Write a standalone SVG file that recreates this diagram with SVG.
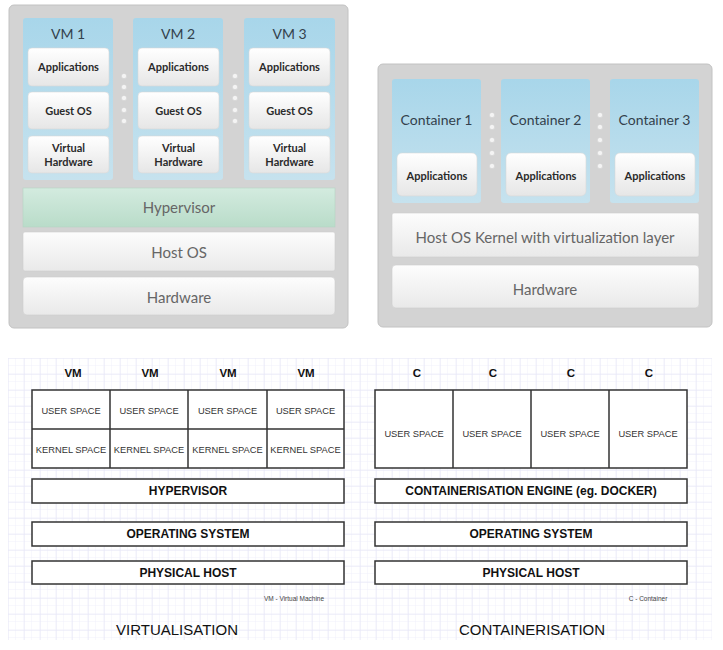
<svg xmlns="http://www.w3.org/2000/svg" width="723" height="650" viewBox="0 0 723 650">
<defs>
<linearGradient id="gBlue" x1="0" y1="0" x2="0" y2="1"><stop offset="0" stop-color="#a8d6ea"/><stop offset="1" stop-color="#c6e2ee"/></linearGradient>
<linearGradient id="gWhite" x1="0" y1="0" x2="0" y2="1"><stop offset="0" stop-color="#ffffff"/><stop offset="1" stop-color="#e6e6e6"/></linearGradient>
<linearGradient id="gLayer" x1="0" y1="0" x2="0" y2="1"><stop offset="0" stop-color="#fdfdfd"/><stop offset="1" stop-color="#e9e9e9"/></linearGradient>
<linearGradient id="gGreen" x1="0" y1="0" x2="0" y2="1"><stop offset="0" stop-color="#d3ebdf"/><stop offset="1" stop-color="#b9dcc9"/></linearGradient>
<pattern id="minor" width="8" height="8" patternUnits="userSpaceOnUse" x="8" y="358"><path d="M8 0V8M0 8H8" fill="none" stroke="#f0f0fb" stroke-width="1"/></pattern>
<pattern id="major" width="16" height="16" patternUnits="userSpaceOnUse" x="8" y="358"><path d="M0 0V16M0 0H16" fill="none" stroke="#e4e4f6" stroke-width="1"/></pattern>
</defs>
<style>
.outer{fill:#d3d3d3;stroke:#c2c2c2;stroke-width:1}
.col{fill:url(#gBlue)}
.wbox{fill:url(#gWhite);stroke:#d8d8d8;stroke-width:0.6}
.layer{fill:url(#gLayer);stroke:#cfcfcf;stroke-width:0.6}
.dot{fill:#f4f4f4;stroke:#cfcfcf;stroke-width:0.5}
.t-head{font-family:Lato,"Open Sans",sans-serif;font-size:14px;fill:#33414c;text-anchor:middle}
.t-box{font-family:Lato,"Open Sans",sans-serif;font-size:11px;font-weight:bold;fill:#2a2a2a;text-anchor:middle}
.t-layer{font-family:Lato,"Open Sans",sans-serif;font-size:15px;fill:#666;text-anchor:middle}
.cell{fill:#fff;stroke:#333;stroke-width:1.5}
.b-lab{font-family:"Liberation Sans",Arial,sans-serif;font-size:11.5px;font-weight:bold;fill:#111;text-anchor:middle}
.b-cell{font-family:"Liberation Sans",Arial,sans-serif;font-size:9.3px;fill:#333;text-anchor:middle}
.b-bar{font-family:"Liberation Sans",Arial,sans-serif;font-size:12px;font-weight:bold;fill:#111;text-anchor:middle}
.b-note{font-family:"Liberation Sans",Arial,sans-serif;font-size:6.5px;fill:#444;text-anchor:middle}
.b-title{font-family:"Liberation Sans",Arial,sans-serif;font-size:15px;fill:#111;text-anchor:middle}
</style>

<!-- Top-left: VM architecture -->
<g id="vm-panel">
<rect class="outer" x="9" y="5" width="339" height="323" rx="5"/>
</g>
<g id="vm1">
<rect class="col" x="23" y="18" width="90" height="162" rx="3"/>
<text class="t-head" x="68" y="39">VM 1</text>
<g><rect class="wbox" x="28" y="48" width="81" height="38" rx="4"/><text class="t-box" x="68.5" y="71">Applications</text></g>
<g><rect class="wbox" x="28" y="92" width="81" height="37" rx="4"/><text class="t-box" x="68.5" y="115">Guest OS</text></g>
<g><rect class="wbox" x="28" y="136" width="81" height="37" rx="4"/><text class="t-box" x="68.5" y="152">Virtual</text><text class="t-box" x="68.5" y="166">Hardware</text></g>
</g>
<g id="vm2">
<rect class="col" x="133" y="18" width="90" height="162" rx="3"/>
<text class="t-head" x="178" y="39">VM 2</text>
<g><rect class="wbox" x="138" y="48" width="81" height="38" rx="4"/><text class="t-box" x="178.5" y="71">Applications</text></g>
<g><rect class="wbox" x="138" y="92" width="81" height="37" rx="4"/><text class="t-box" x="178.5" y="115">Guest OS</text></g>
<g><rect class="wbox" x="138" y="136" width="81" height="37" rx="4"/><text class="t-box" x="178.5" y="152">Virtual</text><text class="t-box" x="178.5" y="166">Hardware</text></g>
</g>
<g id="vm3">
<rect class="col" x="244" y="18" width="91" height="162" rx="3"/>
<text class="t-head" x="289.5" y="39">VM 3</text>
<g><rect class="wbox" x="249" y="48" width="81" height="38" rx="4"/><text class="t-box" x="289.5" y="71">Applications</text></g>
<g><rect class="wbox" x="249" y="92" width="81" height="37" rx="4"/><text class="t-box" x="289.5" y="115">Guest OS</text></g>
<g><rect class="wbox" x="249" y="136" width="81" height="37" rx="4"/><text class="t-box" x="289.5" y="152">Virtual</text><text class="t-box" x="289.5" y="166">Hardware</text></g>
</g>
<g id="vm-dots">
<circle class="dot" cx="124" cy="76" r="2.6"/><circle class="dot" cx="124" cy="87" r="2.6"/><circle class="dot" cx="124" cy="98" r="2.6"/><circle class="dot" cx="124" cy="110" r="2.6"/><circle class="dot" cx="124" cy="121" r="2.6"/>
<circle class="dot" cx="235" cy="76" r="2.6"/><circle class="dot" cx="235" cy="87" r="2.6"/><circle class="dot" cx="235" cy="98" r="2.6"/><circle class="dot" cx="235" cy="110" r="2.6"/><circle class="dot" cx="235" cy="121" r="2.6"/>
</g>
<g id="hypervisor-top">
<rect x="23" y="188" width="312" height="39" fill="url(#gGreen)" stroke="#b5d3c3" stroke-width="0.6"/>
<text class="t-layer" x="179" y="213">Hypervisor</text>
</g>
<g id="hostos-top">
<rect class="layer" x="23" y="232" width="312" height="39" rx="2"/>
<text class="t-layer" x="179" y="258">Host OS</text>
</g>
<g id="hardware-top-left">
<rect class="layer" x="23" y="277" width="312" height="38" rx="4"/>
<text class="t-layer" x="179" y="303">Hardware</text>
</g>

<!-- Top-right: Container architecture -->
<g id="ct-panel">
<rect class="outer" x="378" y="64" width="334" height="263" rx="5"/>
</g>
<g id="container1">
<rect class="col" x="392" y="79" width="89" height="124" rx="3"/>
<text class="t-head" x="436.5" y="125">Container 1</text>
<g><rect class="wbox" x="397" y="153" width="80" height="43" rx="5"/><text class="t-box" x="437" y="180">Applications</text></g>
</g>
<g id="container2">
<rect class="col" x="501" y="79" width="89" height="124" rx="3"/>
<text class="t-head" x="545.5" y="125">Container 2</text>
<g><rect class="wbox" x="506" y="153" width="80" height="43" rx="5"/><text class="t-box" x="546" y="180">Applications</text></g>
</g>
<g id="container3">
<rect class="col" x="610" y="79" width="89" height="124" rx="3"/>
<text class="t-head" x="654.5" y="125">Container 3</text>
<g><rect class="wbox" x="615" y="153" width="80" height="43" rx="5"/><text class="t-box" x="655" y="180">Applications</text></g>
</g>
<g id="ct-dots">
<circle class="dot" cx="492" cy="115" r="2.6"/><circle class="dot" cx="492" cy="127" r="2.6"/><circle class="dot" cx="492" cy="140" r="2.6"/><circle class="dot" cx="492" cy="153" r="2.6"/><circle class="dot" cx="492" cy="166" r="2.6"/>
<circle class="dot" cx="600" cy="115" r="2.6"/><circle class="dot" cx="600" cy="127" r="2.6"/><circle class="dot" cx="600" cy="140" r="2.6"/><circle class="dot" cx="600" cy="153" r="2.6"/><circle class="dot" cx="600" cy="166" r="2.6"/>
</g>
<g id="kernel-top">
<rect class="layer" x="392" y="213" width="307" height="44" rx="2"/>
<text class="t-layer" x="545" y="243">Host OS Kernel with virtualization layer</text>
</g>
<g id="hardware-top-right">
<rect class="layer" x="392" y="265" width="307" height="43" rx="4"/>
<text class="t-layer" x="545" y="295">Hardware</text>
</g>

<!-- Bottom grid background -->
<rect x="8" y="358" width="704" height="282" fill="#fff"/>
<rect x="8" y="358" width="704" height="282" fill="url(#minor)"/>
<rect x="8" y="358" width="704" height="282" fill="url(#major)"/>

<!-- Bottom-left: Virtualisation -->
<g id="virt-labels">
<text class="b-lab" x="73" y="377">VM</text>
<text class="b-lab" x="150" y="377">VM</text>
<text class="b-lab" x="228" y="377">VM</text>
<text class="b-lab" x="306" y="377">VM</text>
</g>
<g id="virt-table">
<rect class="cell" x="32" y="390" width="312" height="78"/>
<path d="M32 429H344M110 390V468M188 390V468M267 390V468" fill="none" stroke="#333" stroke-width="1.5"/>
<text class="b-cell" x="71" y="414">USER SPACE</text>
<text class="b-cell" x="149" y="414">USER SPACE</text>
<text class="b-cell" x="227.5" y="414">USER SPACE</text>
<text class="b-cell" x="305.5" y="414">USER SPACE</text>
<text class="b-cell" x="71" y="453">KERNEL SPACE</text>
<text class="b-cell" x="149" y="453">KERNEL SPACE</text>
<text class="b-cell" x="227.5" y="453">KERNEL SPACE</text>
<text class="b-cell" x="305.5" y="453">KERNEL SPACE</text>
</g>
<g id="virt-hypervisor">
<rect class="cell" x="32" y="479" width="312" height="24"/>
<text class="b-bar" x="188" y="495">HYPERVISOR</text>
</g>
<g id="virt-os">
<rect class="cell" x="32" y="522" width="312" height="24"/>
<text class="b-bar" x="188" y="538">OPERATING SYSTEM</text>
</g>
<g id="virt-host">
<rect class="cell" x="32" y="561" width="312" height="23"/>
<text class="b-bar" x="188" y="577">PHYSICAL HOST</text>
</g>
<text class="b-note" x="294" y="601">VM - Virtual Machine</text>
<text class="b-title" x="177" y="635">VIRTUALISATION</text>

<!-- Bottom-right: Containerisation -->
<g id="cont-labels">
<text class="b-lab" x="417" y="377">C</text>
<text class="b-lab" x="493" y="377">C</text>
<text class="b-lab" x="571" y="377">C</text>
<text class="b-lab" x="649" y="377">C</text>
</g>
<g id="cont-table">
<rect class="cell" x="375" y="390" width="312" height="78"/>
<path d="M453 390V468M531 390V468M609 390V468" fill="none" stroke="#333" stroke-width="1.5"/>
<text class="b-cell" x="414" y="437">USER SPACE</text>
<text class="b-cell" x="492" y="437">USER SPACE</text>
<text class="b-cell" x="570" y="437">USER SPACE</text>
<text class="b-cell" x="648" y="437">USER SPACE</text>
</g>
<g id="cont-engine">
<rect class="cell" x="375" y="479" width="312" height="24"/>
<text class="b-bar" x="531" y="495">CONTAINERISATION ENGINE (eg. DOCKER)</text>
</g>
<g id="cont-os">
<rect class="cell" x="375" y="522" width="312" height="24"/>
<text class="b-bar" x="531" y="538">OPERATING SYSTEM</text>
</g>
<g id="cont-host">
<rect class="cell" x="375" y="561" width="312" height="23"/>
<text class="b-bar" x="531" y="577">PHYSICAL HOST</text>
</g>
<text class="b-note" x="648" y="601">C - Container</text>
<text class="b-title" x="532" y="635">CONTAINERISATION</text>
</svg>
